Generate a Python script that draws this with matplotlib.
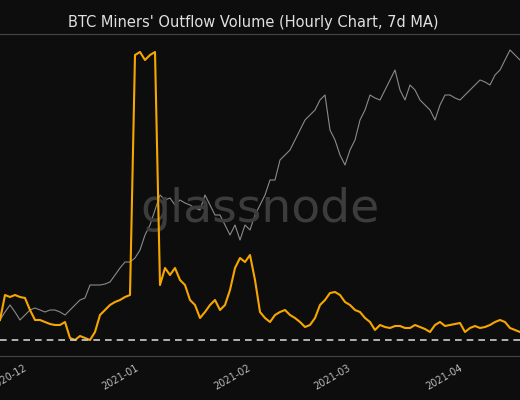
import matplotlib
matplotlib.use("Agg")
import matplotlib.pyplot as plt
import pandas as pd

# Miners' outflow (relative units, 7d MA) sampled every ~33h from 2020-11-23
outflow = [20,45,43,45,43,42,30,20,20,18,16,15,15,18,2,0,4,2,0,8,25,30,35,38,40,43,45,
           285,288,280,285,288,55,72,65,72,60,55,40,35,22,28,35,40,30,35,50,72,82,78,85,60,28,22,18,25,
           28,30,25,22,18,13,15,22,35,40,47,48,45,38,35,30,28,22,18,10,15,13,12,14,14,12,12,15,13,11,
           8,15,18,14,15,16,17,8,12,14,12,13,15,18,20,18,12,10,8]
# BTC price (relative units)
price = [36,44,51,44,36,41,46,48,46,44,46,46,44,41,46,51,56,58,71,71,71,72,74,81,88,94,94,98,
         106,121,131,146,161,156,158,151,156,153,151,148,146,161,151,141,141,131,121,131,116,131,126,
         141,151,161,176,176,196,201,206,216,226,236,241,246,256,261,226,216,201,191,206,216,236,246,
         261,258,256,266,276,286,266,256,271,266,256,251,246,236,251,261,261,258,256,261,266,271,276,
         274,271,281,286,296,306,301,296]

dates = pd.date_range("2020-11-23 00:00", periods=len(outflow), freq="33h20min")
ticks = pd.to_datetime(["2020-12-01", "2021-01-01", "2021-02-01", "2021-03-01", "2021-04-01"])
tick_labels = ["2020-12", "2021-01", "2021-02", "2021-03", "2021-04"]

bg = "#0d0d0d"
fig = plt.figure(figsize=(5.2, 4.0), dpi=100, facecolor=bg)
ax = fig.add_axes([0, 0.11, 1, 0.805], facecolor=bg)
ax2 = ax.twinx()

ax.text(0.5, 0.455, "glassnode", transform=ax.transAxes, ha="center", va="center",
        fontsize=34, color="#3c3c3c", zorder=0)
ax2.plot(dates, price, color="#8a8a8a", lw=0.8)
ax.plot(dates, outflow, color="#f7a600", lw=1.5, zorder=3)
ax.set_zorder(ax2.get_zorder() + 1)
ax.patch.set_visible(False)
ax.axhline(0, color="#cccccc", lw=1.2, ls=(0, (4, 3)), zorder=4)

ax.set_xlim(dates[0], dates[-1])
ax.set_ylim(-16, 306)
ax2.set_ylim(0, 322)
ax.set_xticks(ticks)
ax.set_xticklabels(tick_labels, rotation=30, ha="right", fontsize=7, color="#bbbbbb")
ax.tick_params(axis="x", length=0, pad=5)
ax.set_yticks([])
ax2.set_yticks([])
for a in (ax, ax2):
    for s in ("left", "right"):
        a.spines[s].set_visible(False)
    a.spines["top"].set_color("#444444")
    a.spines["bottom"].set_color("#444444")

fig.text(0.487, 0.945, "BTC Miners' Outflow Volume (Hourly Chart, 7d MA)",
         ha="center", va="center", fontsize=10.5, color="#e0e0e0")
fig.savefig("out.png", dpi=100, facecolor=bg)
